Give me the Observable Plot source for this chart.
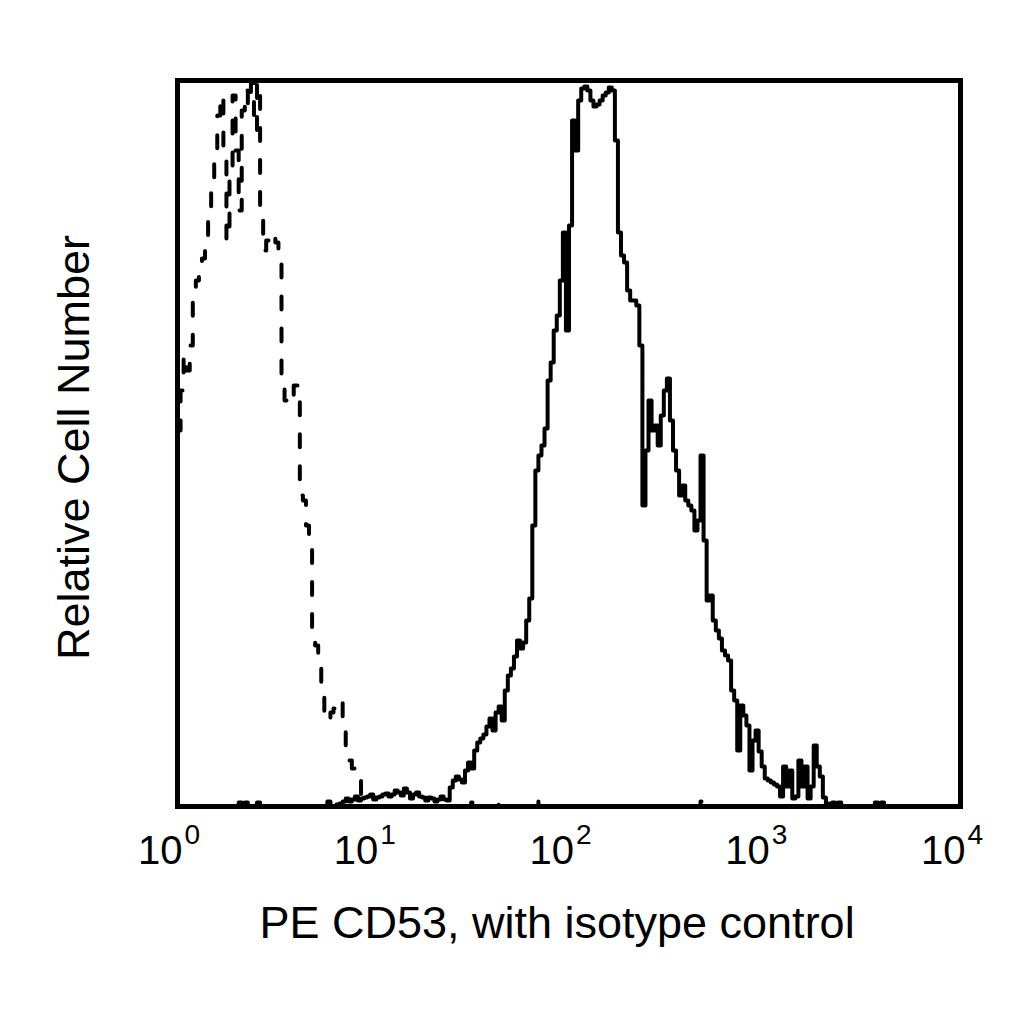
<!DOCTYPE html>
<html><head><meta charset="utf-8">
<script src="https://cdn.jsdelivr.net/npm/d3@7"></script>
<script src="https://cdn.jsdelivr.net/npm/@observablehq/plot@0.6"></script>
<style>html,body{margin:0;padding:0;background:#fff;} svg{display:block}</style>
</head><body><div id="chart"></div>
<script>
// 256-channel flow cytometry histograms, 64 channels per decade (10^0 .. 10^4)
const channelsPerDecade = 64;
const totalChannels = 256;

// Isotype control (dashed), counts per channel starting at channel 0
const isoStartChannel = 0;
const isoCounts = [376,416,451,436,461,506,526,538,548,561,586,616,656,691,711,646,566,636,711,656,
  596,696,716,701,740,676,740,596,556,566,561,568,564,556,426,406,403,411,421,421,
  311,306,281,258,171,161,146,111,91,86,94,98,101,106,76,56,46,38,31,26,6,0];
// isolated single-channel events along the baseline [channel, count]
const isoSparseEvents = [[96,4],[105,4],[117,5],[171,5]];

// PE CD53 (solid), counts per channel starting at channel 48
const cd53StartChannel = 48;
const cd53Counts = [0,5,0,0,2,3,5,8,5,7,10,6,8,9,10,12,7,9,10,12,
  13,10,12,16,14,11,18,14,8,12,14,10,9,6,9,8,5,7,10,7,
  6,19,26,30,27,24,36,44,38,56,64,68,72,80,88,76,94,100,86,116,
  131,138,150,166,158,164,186,208,281,336,351,361,378,426,444,476,491,526,574,476,
  581,686,656,706,718,720,716,706,700,702,706,711,714,719,716,666,574,551,544,516,
  506,506,501,461,301,356,406,376,381,361,391,416,428,386,356,336,311,321,306,301,
  296,276,286,351,266,206,211,186,176,168,156,151,146,116,106,56,101,91,81,36,
  66,76,55,40,28,26,24,22,20,10,40,20,36,8,10,46,20,40,8,20,
  61,40,30,9,3,0];
const cd53SparseEvents = [[20,4],[22,4],[26,4],[214,4],[216,4],[228,4],[230,4]];

const tickValues = [1, 10, 100, 1000, 10000];
const tickBase = "10";
const tickExponents = ["0", "1", "2", "3", "4"];
const xLabel = "PE CD53, with isotype control";
const yLabel = "Relative Cell Number";

function buildHistogram(start, counts, sparse) {
  const byChannel = new Map();
  counts.forEach((v, i) => byChannel.set(start + i, v));
  sparse.forEach(([c, v]) => byChannel.set(c, v));
  const rows = [];
  for (let c = 0; c <= totalChannels; c++) rows.push({channel: c, count: byChannel.get(c) ?? 0});
  return rows;
}

const iso = buildHistogram(isoStartChannel, isoCounts, isoSparseEvents);
const cd53 = buildHistogram(cd53StartChannel, cd53Counts, cd53SparseEvents);
const intensity = d => Math.pow(10, d.channel / channelsPerDecade);

const fontFamily = "'Liberation Sans', Arial, Helvetica, sans-serif";

const chart = Plot.plot({
  width: 1024,
  height: 1024,
  marginLeft: 177,
  marginRight: 64,
  marginTop: 80,
  marginBottom: 218,
  x: {type: "log", domain: [1, 10000], axis: null},
  y: {domain: [0, 726], axis: null},
  style: {fontFamily, background: "white", color: "black"},
  marks: [
    Plot.line(iso, {x: intensity, y: "count", curve: "step-after", stroke: "black",
      strokeWidth: 4, strokeDasharray: "13,19", strokeLinecap: "round", clip: true}),
    Plot.line(cd53, {x: intensity, y: "count", curve: "step-after", stroke: "black",
      strokeWidth: 4, clip: true}),
    Plot.frame({stroke: "black", strokeWidth: 5}),
    Plot.text(tickValues, {x: d => d, frameAnchor: "bottom", text: () => tickBase,
      textAnchor: "end", lineAnchor: "bottom", dy: 57, dx: 5, fontSize: 40, fill: "black"}),
    Plot.text(tickValues, {x: d => d, frameAnchor: "bottom", text: (d, i) => tickExponents[i],
      textAnchor: "start", lineAnchor: "bottom", dy: 37, dx: 7, fontSize: 28, fill: "black"}),
    Plot.text([xLabel], {frameAnchor: "bottom", text: d => d, dy: 131, dx: -12,
      fontSize: 45, lineAnchor: "bottom", textAnchor: "middle", fill: "black"}),
    Plot.text([yLabel], {frameAnchor: "left", text: d => d, rotate: -90, dx: -89, dy: 4,
      fontSize: 45, lineAnchor: "bottom", textAnchor: "middle", fill: "black"})
  ]
});
document.getElementById("chart").appendChild(chart);
</script>
</body></html>
